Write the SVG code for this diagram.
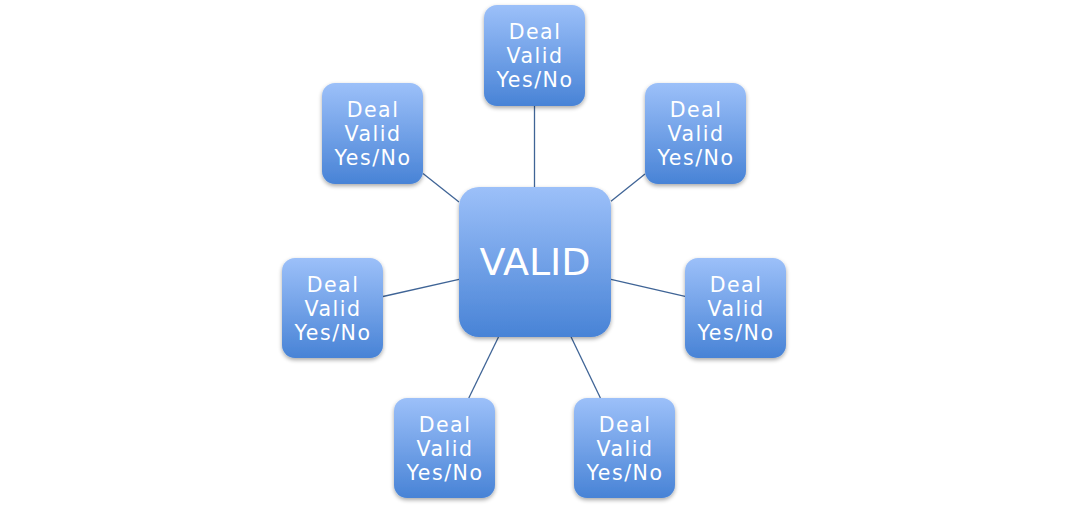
<svg xmlns="http://www.w3.org/2000/svg" width="1069" height="510" viewBox="0 0 1069 510">
<defs>
<linearGradient id="g" x1="0" y1="0" x2="0" y2="1">
<stop offset="0" stop-color="#9cc0f9"/>
<stop offset="1" stop-color="#4883d6"/>
</linearGradient>
<filter id="sh" x="-20%" y="-20%" width="140%" height="150%">
<feGaussianBlur in="SourceAlpha" stdDeviation="2"/>
<feOffset dx="0" dy="2" result="b"/>
<feComponentTransfer><feFuncA type="linear" slope="0.35"/></feComponentTransfer>
<feMerge><feMergeNode/><feMergeNode in="SourceGraphic"/></feMerge>
</filter>
</defs>
<style>
.box{fill:url(#g);filter:url(#sh)}
.t{font-family:"DejaVu Sans",sans-serif;font-size:20.5px;fill:#fff;text-anchor:middle;letter-spacing:1.5px}
.c{font-family:"DejaVu Sans",sans-serif;font-size:38px;fill:#fff;text-anchor:middle}
.ln{stroke:#3f6496;stroke-width:1.3;fill:none}
</style>
<rect width="1069" height="510" fill="#fff"/>
<g id="connectors">
<line class="ln" x1="534.5" y1="106" x2="534.5" y2="187"/>
<line class="ln" x1="459" y1="201.9" x2="423" y2="173.4"/>
<line class="ln" x1="611" y1="201.2" x2="645" y2="173.9"/>
<line class="ln" x1="459" y1="279.3" x2="383" y2="296.5"/>
<line class="ln" x1="611" y1="279.4" x2="685" y2="296.4"/>
<line class="ln" x1="498.5" y1="337" x2="468.8" y2="398"/>
<line class="ln" x1="571.1" y1="337" x2="600.4" y2="398"/>
</g>
<g id="center">
<rect class="box" x="459" y="187" width="152" height="150" rx="20"/>
<text class="c" x="535" y="275">VALID</text>
</g>
<g id="n-top">
<rect class="box" x="484" y="5" width="101" height="101" rx="13"/>
<text class="t" x="535" y="39">Deal</text><text class="t" x="535" y="63">Valid</text><text class="t" x="535" y="87">Yes/No</text>
</g>
<g id="n-ul">
<rect class="box" x="322" y="83" width="101" height="101" rx="13"/>
<text class="t" x="373" y="117">Deal</text><text class="t" x="373" y="141">Valid</text><text class="t" x="373" y="165">Yes/No</text>
</g>
<g id="n-ur">
<rect class="box" x="645" y="83" width="101" height="101" rx="13"/>
<text class="t" x="696" y="117">Deal</text><text class="t" x="696" y="141">Valid</text><text class="t" x="696" y="165">Yes/No</text>
</g>
<g id="n-l">
<rect class="box" x="282" y="258" width="101" height="100" rx="13"/>
<text class="t" x="333" y="292">Deal</text><text class="t" x="333" y="316">Valid</text><text class="t" x="333" y="340">Yes/No</text>
</g>
<g id="n-r">
<rect class="box" x="685" y="258" width="101" height="100" rx="13"/>
<text class="t" x="736" y="292">Deal</text><text class="t" x="736" y="316">Valid</text><text class="t" x="736" y="340">Yes/No</text>
</g>
<g id="n-bl">
<rect class="box" x="394" y="398" width="101" height="100" rx="13"/>
<text class="t" x="445" y="432">Deal</text><text class="t" x="445" y="456">Valid</text><text class="t" x="445" y="480">Yes/No</text>
</g>
<g id="n-br">
<rect class="box" x="574" y="398" width="101" height="100" rx="13"/>
<text class="t" x="625" y="432">Deal</text><text class="t" x="625" y="456">Valid</text><text class="t" x="625" y="480">Yes/No</text>
</g>
</svg>
